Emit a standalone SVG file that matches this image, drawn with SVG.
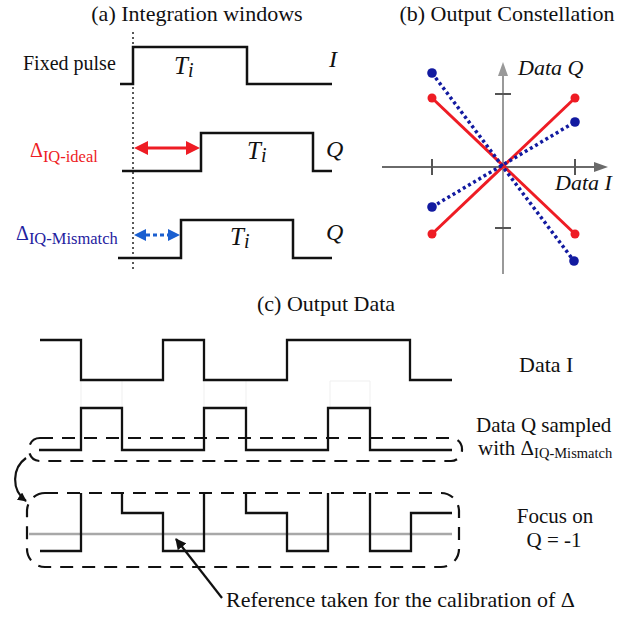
<svg xmlns="http://www.w3.org/2000/svg" width="644" height="617" viewBox="0 0 644 617">
<style>
text{font-family:"Liberation Serif","Times New Roman",serif;fill:#111}
.t{font-size:22px}
.t2{font-size:21px}
.it{font-style:italic}
.w{fill:none;stroke:#111;stroke-width:2.5;stroke-linejoin:miter}
.wc{fill:none;stroke:#111;stroke-width:2.3}
.dash{fill:none;stroke:#111;stroke-width:2.2;stroke-dasharray:13 9}
.guide{stroke:#efefef;stroke-width:1;fill:none}
</style>
<defs>
<marker id="ah" viewBox="0 0 10 10" refX="9" refY="5" markerWidth="9" markerHeight="9" markerUnits="userSpaceOnUse" orient="auto">
<path d="M0,0 L10,5 L0,10 z" fill="#111"/>
</marker>
<marker id="ah2" viewBox="0 0 10 10" refX="9" refY="5" markerWidth="11" markerHeight="11" markerUnits="userSpaceOnUse" orient="auto">
<path d="M0,0 L10,5 L0,10 z" fill="#111"/>
</marker>
</defs>

<g id="panel-a">
<text class="t" x="197" y="21" text-anchor="middle">(a) Integration windows</text>
<line x1="133" y1="32" x2="133" y2="272" stroke="#222" stroke-width="1.5" stroke-dasharray="2 3"/>
<g id="fixed-pulse">
<text x="23" y="70" style="font-size:20px">Fixed pulse</text>
<path class="w" d="M120,84 H133 V47 H247 V84 H332"/>
<text x="174" y="74" class="it" style="font-size:25px">T<tspan style="font-size:20px" dy="3">i</tspan></text>
<text x="329" y="67" class="it" style="font-size:24px">I</text>
</g>
<g id="q-ideal">
<text x="30" y="157" style="font-size:20px;fill:#ee1c24">Δ<tspan dy="5" style="font-size:16.5px;fill:#ee1c24">IQ-ideal</tspan></text>
<path class="w" d="M122,171 H201 V133 H313 V171 H332"/>
<line x1="146" y1="148" x2="188" y2="148" stroke="#ee1c24" stroke-width="3"/>
<polygon points="134,148 148,141 148,155" fill="#ee1c24"/>
<polygon points="200,148 186,141 186,155" fill="#ee1c24"/>
<text x="247" y="159" class="it" style="font-size:25px">T<tspan style="font-size:20px" dy="3">i</tspan></text>
<text x="326" y="157" class="it" style="font-size:24px">Q</text>
</g>
<g id="q-mismatch">
<text x="16" y="240" style="font-size:20px;fill:#1f22a0">Δ<tspan dy="4" style="font-size:16.5px;fill:#1f22a0">IQ-Mismatch</tspan></text>
<path class="w" d="M118,258 H181 V220 H293 V258 H332"/>
<line x1="146" y1="235" x2="169" y2="235" stroke="#1a5fd0" stroke-width="3" stroke-dasharray="4 3"/>
<polygon points="134,235 146,229 146,241" fill="#1a5fd0"/>
<polygon points="180,235 168,229 168,241" fill="#1a5fd0"/>
<text x="230" y="245" class="it" style="font-size:25px">T<tspan style="font-size:20px" dy="3">i</tspan></text>
<text x="326" y="240" class="it" style="font-size:24px">Q</text>
</g>
</g>

<g id="panel-b">
<text class="t" x="507" y="21" text-anchor="middle">(b) Output Constellation</text>
<g id="axes">
<line x1="503" y1="274" x2="503" y2="74" stroke="#999" stroke-width="2"/>
<polygon points="503,62 498,76 508,76" fill="#999"/>
<line x1="382" y1="167" x2="596" y2="167" stroke="#6a6a6a" stroke-width="2"/>
<polygon points="608,167 594,162 594,172" fill="#6a6a6a"/>
<line x1="432" y1="159" x2="432" y2="175" stroke="#555" stroke-width="2"/>
<line x1="575" y1="159" x2="575" y2="175" stroke="#555" stroke-width="2"/>
<line x1="495" y1="94" x2="511" y2="94" stroke="#555" stroke-width="2"/>
<line x1="495" y1="228" x2="511" y2="228" stroke="#555" stroke-width="2"/>
</g>
<g id="ideal-constellation" fill="#ee1c24">
<line x1="432" y1="98" x2="575" y2="234" stroke="#ee1c24" stroke-width="3"/>
<line x1="432" y1="234" x2="575" y2="98" stroke="#ee1c24" stroke-width="3"/>
<circle cx="432" cy="98" r="4.5"/>
<circle cx="575" cy="98" r="4.5"/>
<circle cx="432" cy="234" r="4.5"/>
<circle cx="575" cy="234" r="4.5"/>
</g>
<g id="mismatch-constellation" fill="#121aa0">
<line x1="432" y1="73" x2="574" y2="261" stroke="#121aa0" stroke-width="3.5" stroke-dasharray="3 3"/>
<line x1="432" y1="207" x2="575" y2="122" stroke="#121aa0" stroke-width="3.5" stroke-dasharray="3 3"/>
<circle cx="432" cy="73" r="4.8"/>
<circle cx="575" cy="122" r="4.8"/>
<circle cx="432" cy="207" r="4.8"/>
<circle cx="574" cy="261" r="4.8"/>
</g>
<text x="518" y="75" class="it t">Data Q</text>
<text x="555" y="190" class="it t">Data I</text>
</g>

<g id="panel-c">
<text class="t" x="326" y="311" text-anchor="middle">(c) Output Data</text>
<g id="guides">
<line class="guide" x1="81" y1="381" x2="81" y2="408"/>
<line class="guide" x1="122" y1="381" x2="122" y2="408"/>
<line class="guide" x1="204" y1="381" x2="204" y2="408"/>
<line class="guide" x1="246" y1="381" x2="246" y2="408"/>
<path class="guide" d="M330,408 V381 H370 V408"/>
</g>
<g id="data-i">
<path class="wc" d="M40,340 H81 V380 H163 V340 H204 V380 H287 V340 H410 V380 H452"/>
<text class="t" x="519" y="372">Data I</text>
</g>
<g id="data-q">
<rect class="dash" x="29" y="438" width="433" height="23" rx="11"/>
<path class="wc" d="M39,450 H81 V408 H122 V450 H204 V408 H246 V450 H328 V408 H370 V450 H452"/>
<text class="t2" x="476" y="432">Data Q sampled</text>
<text class="t2" x="478" y="455">with Δ<tspan dy="3" style="font-size:14.5px">IQ-Mismatch</tspan></text>
</g>
<g id="focus">
<rect class="dash" x="27" y="493" width="432" height="74" rx="18"/>
<line x1="29" y1="534" x2="452" y2="534" stroke="#a8a8a8" stroke-width="2.5"/>
<path class="wc" d="M40,551 H81 V493"/>
<path class="wc" d="M122,493 V513 H163 V551 H204 V493"/>
<path class="wc" d="M246,493 V513 H287 V551 H328 V493"/>
<path class="wc" d="M370,493 V551 H411 V513 H452"/>
<text class="t2" x="555" y="523" text-anchor="middle">Focus on</text>
<text class="t2" x="554" y="547" text-anchor="middle">Q = -1</text>
</g>
<g id="connectors">
<path d="M26,458 C12,468 11,490 26,501" fill="none" stroke="#111" stroke-width="2.2" marker-end="url(#ah)"/>
<line x1="222" y1="598" x2="176" y2="539" stroke="#111" stroke-width="2.2" marker-end="url(#ah2)"/>
</g>
<text class="t" x="226" y="607">Reference taken for the calibration of Δ</text>
</g>
</svg>
